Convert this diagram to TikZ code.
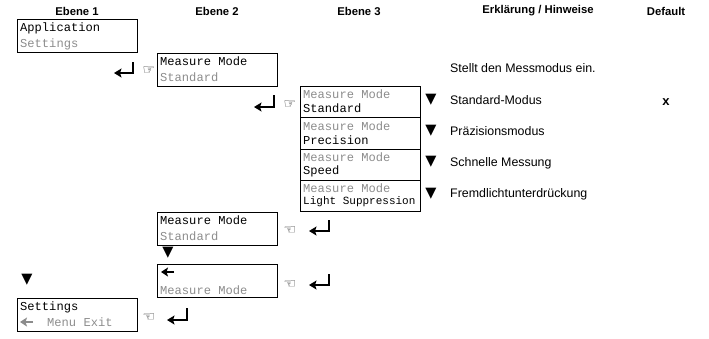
\documentclass[tikz,border=0pt]{standalone}
\usepackage{fontspec}
\usepackage{tikz}
\usetikzlibrary{arrows.meta,positioning}
\setmainfont{Liberation Sans}
\newfontfamily\lcdfont{Liberation Mono}
\newfontfamily\symbfont{DejaVu Sans}

\begin{document}
\begin{tikzpicture}[x=1pt, y=-1pt]
		\tikzstyle{Head}	= [font=\fontsize{11.3}{12}\selectfont\bfseries, inner sep=0pt]
		\tikzstyle{Note}	= [anchor=west, font=\fontsize{12.4}{13}\selectfont, inner sep=0pt]
		\tikzstyle{Box}		= [rectangle, draw, line width=0.8pt, minimum width=120pt, inner sep=0pt]
		\tikzstyle{On}		= [anchor=west, font=\fontsize{12.1}{12}\lcdfont, inner sep=0pt, black]
		\tikzstyle{Off}		= [anchor=west, font=\fontsize{12.1}{12}\lcdfont, inner sep=0pt, black!45]
		\tikzstyle{Down}	= [font=\fontsize{14.5}{14}\symbfont, inner sep=0pt]
		\tikzstyle{Hand}	= [font=\fontsize{14}{14}\symbfont\bfseries, inner sep=0pt, black!85]
		\tikzstyle{Enter}	= [line width=1.7pt, -{Stealth[length=7.5pt, width=9pt, inset=1.5pt]}]
		\tikzstyle{Back}	= [line width=1.5pt, -{Stealth[length=7pt, width=9pt, inset=1.5pt]}]

		\useasboundingbox (0, 0) rectangle (709, 338);

		\node (h1) at (77, 11) [Head] {Ebene 1};
		\node (h2) at (217, 11) [Head] {Ebene 2};
		\node (h3) at (359, 11) [Head] {Ebene 3};
		\node (h4) at (538, 11) [Head] {Erklärung / Hinweise};
		\node (h5) at (666, 11) [Head] {Default};

		\node (b1) at (77.5, 35.5) [Box, minimum height=33pt] {};
		\node (b2) at (217.5, 69.5) [Box, minimum height=33pt] {};
		\node (b3) at (360, 102) [Box, minimum height=31.5pt] {};
		\node (b4) at (360, 133.5) [Box, minimum height=31.5pt] {};
		\node (b5) at (360, 165) [Box, minimum height=31.5pt] {};
		\node (b6) at (360, 196) [Box, minimum height=30.5pt] {};
		\node (b7) at (217.5, 228.5) [Box, minimum height=33pt] {};
		\node (b8) at (217.5, 281) [Box, minimum height=33pt] {};
		\node (b9) at (77.5, 315) [Box, minimum height=33pt] {};

		\node (t1) at (20, 28) [On] {Application};
		\node (t2) at (20, 44) [Off] {Settings};
		\node (t3) at (160, 61) [On] {Measure Mode};
		\node (t4) at (160, 77) [Off] {Standard};
		\node (t5) at (303, 94) [Off] {Measure Mode};
		\node (t6) at (303, 108) [On] {Standard};
		\node (t7) at (303, 126) [Off] {Measure Mode};
		\node (t8) at (303, 140) [On] {Precision};
		\node (t9) at (303, 157) [Off] {Measure Mode};
		\node (t10) at (303, 171) [On] {Speed};
		\node (t11) at (303, 188) [Off] {Measure Mode};
		\node (t12) at (303, 202) [On, font=\fontsize{11}{12}\lcdfont] {Light Suppression};
		\node (t13) at (160, 220) [On] {Measure Mode};
		\node (t14) at (160, 236) [Off] {Standard};
		\node (t15) at (160, 290) [Off] {Measure Mode};
		\node (t16) at (20, 307) [On] {Settings};
		\node (t17) at (47, 322) [Off] {Menu Exit};

		\node (n1) at (450, 68) [Note] {Stellt den Messmodus ein.};
		\node (n2) at (450, 100) [Note] {Standard-Modus};
		\node (n3) at (450, 131) [Note] {Präzisionsmodus};
		\node (n4) at (450, 163) [Note] {Schnelle Messung};
		\node (n5) at (450, 194) [Note] {Fremdlichtunterdrückung};
		\node (x1) at (666, 102) [Head, font=\fontsize{13}{13}\selectfont\bfseries] {x};

		\node (d1) at (431, 100) [Down] {▼};
		\node (d2) at (431, 131) [Down] {▼};
		\node (d3) at (431, 162) [Down] {▼};
		\node (d4) at (431, 194) [Down] {▼};
		\node (d5) at (168, 253) [Down] {▼};
		\node (d6) at (27, 280) [Down] {▼};

		\node (p1) at (149, 71) [Hand] {☞};
		\node (p2) at (290, 105) [Hand] {☞};
		\node (p3) at (290, 231) [Hand] {☜};
		\node (p4) at (290, 285) [Hand] {☜};
		\node (p5) at (149, 318) [Hand] {☜};

		\coordinate (e1a) at (133, 62);
		\coordinate (e1b) at (114, 73);
		\coordinate (e2a) at (274, 95);
		\coordinate (e2b) at (254, 107);
		\coordinate (e3a) at (329, 220);
		\coordinate (e3b) at (309, 231);
		\coordinate (e4a) at (329, 274);
		\coordinate (e4b) at (309, 285);
		\coordinate (e5a) at (187, 308);
		\coordinate (e5b) at (167, 320);

		\draw [Enter] (e1a) |- (e1b);
		\draw [Enter] (e2a) |- (e2b);
		\draw [Enter] (e3a) |- (e3b);
		\draw [Enter] (e4a) |- (e4b);
		\draw [Enter] (e5a) |- (e5b);

		\coordinate (a1a) at (174, 272);
		\coordinate (a1b) at (161, 272);
		\coordinate (a2a) at (33, 322);
		\coordinate (a2b) at (20, 322);

		\draw [Back] (a1a) -- (a1b);
		\draw [Back, black!45] (a2a) -- (a2b);
	\end{tikzpicture}
\end{document}
